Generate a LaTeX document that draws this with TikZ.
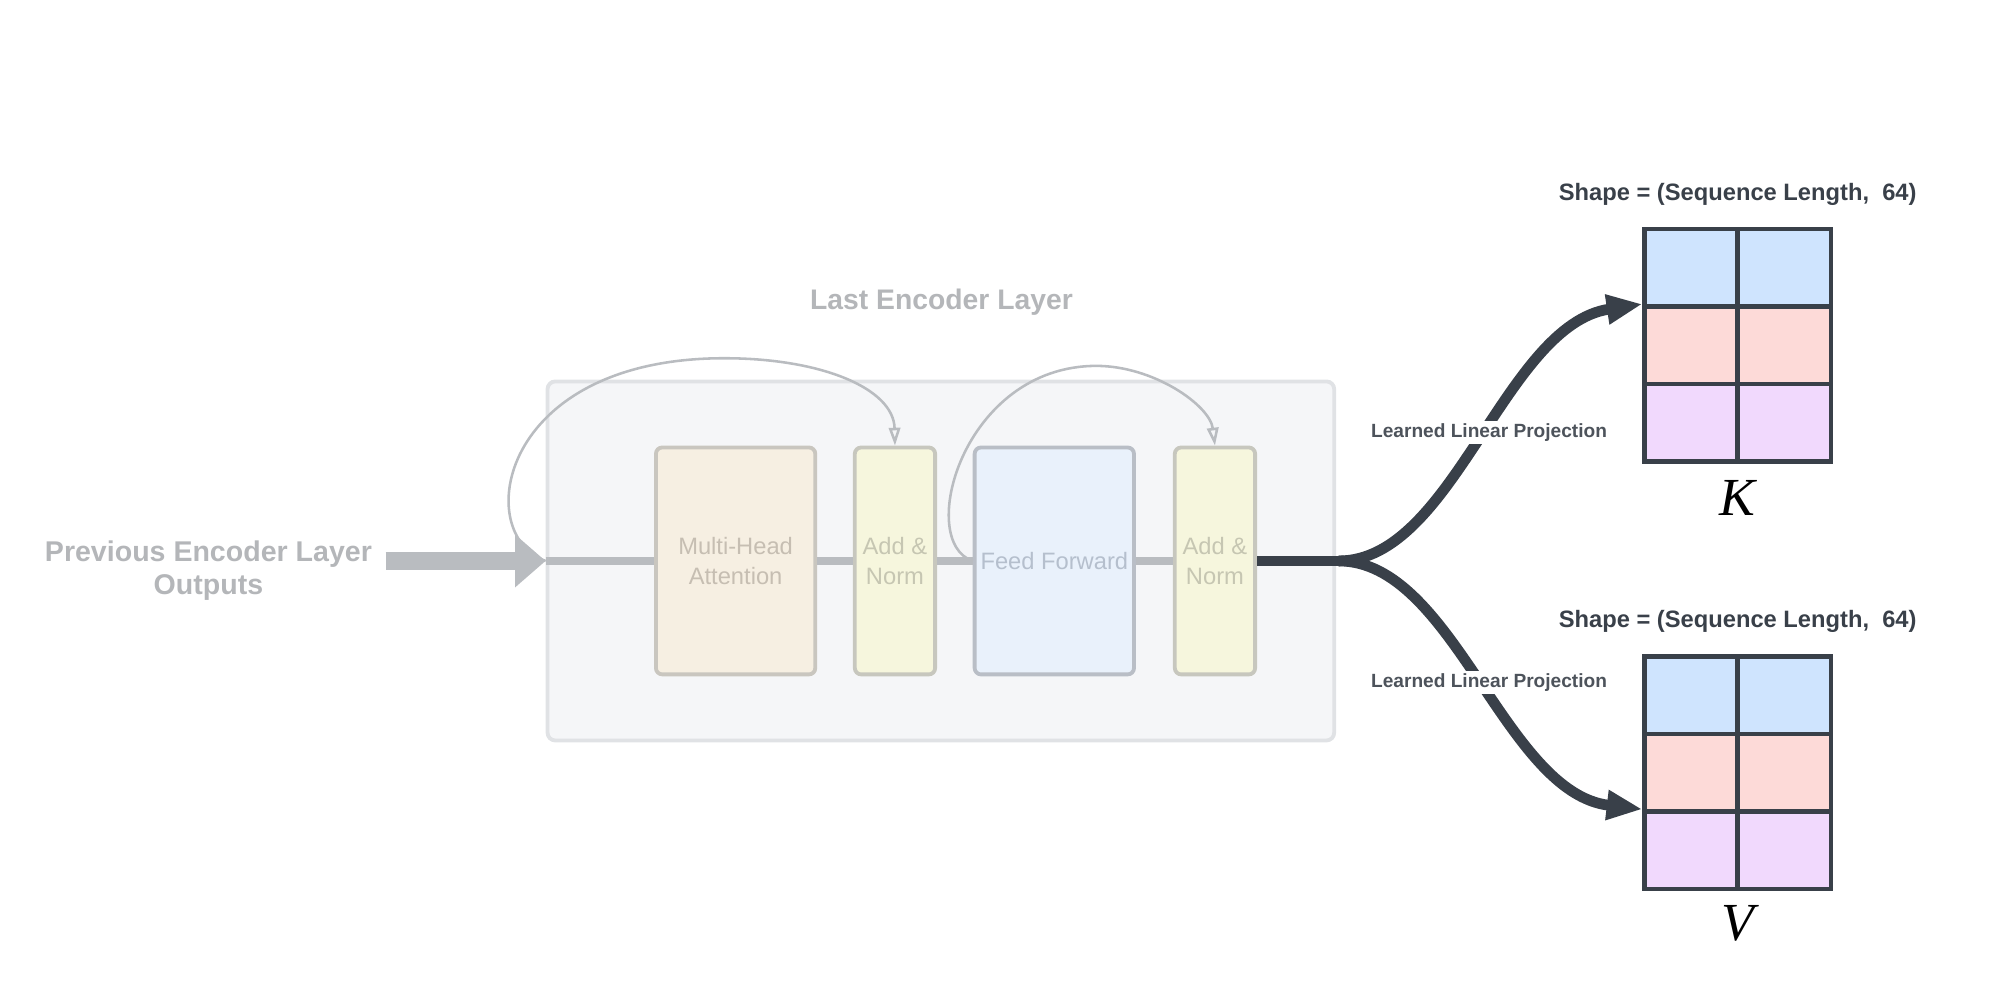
\documentclass[tikz,border=0pt]{standalone}
\usepackage{fontspec}
\setmainfont{Liberation Sans}
\newfontfamily\kvfont{Liberation Serif}
\usetikzlibrary{arrows.meta, positioning}

\definecolor{ink}{HTML}{394049}
\definecolor{faded}{HTML}{B4B6B9}
\definecolor{layerfill}{HTML}{F5F6F8}
\definecolor{layerdraw}{HTML}{E0E2E5}
\definecolor{attnfill}{HTML}{F6EFE2}
\definecolor{attndraw}{HTML}{C9C6BF}
\definecolor{attntext}{HTML}{C6BEB2}
\definecolor{normfill}{HTML}{F6F6DD}
\definecolor{normdraw}{HTML}{C7C7BE}
\definecolor{normtext}{HTML}{C6C6B2}
\definecolor{fffill}{HTML}{E9F1FB}
\definecolor{ffdraw}{HTML}{B9BEC6}
\definecolor{fftext}{HTML}{B5BFCD}
\definecolor{flow}{HTML}{B9BCC0}
\definecolor{cellblue}{HTML}{CFE4FE}
\definecolor{cellred}{HTML}{FDDAD8}
\definecolor{cellpurple}{HTML}{F1D9FD}

\begin{document}
\begin{tikzpicture}[x=0.5pt,y=-0.5pt,node distance=14pt,
  block/.style={draw, line width=1.5pt, rounded corners=2.5pt, minimum height=89pt,
    inner sep=0pt, align=center, font=\fontsize{9.3}{11.5}\selectfont},
  cell/.style={draw=ink, line width=1.75pt, minimum width=36.5pt, minimum height=30.5pt, inner sep=0pt},
  skip/.style={draw=flow, line width=1pt, -{Triangle[open, length=7pt, width=4.5pt]}},
  proj/.style={draw=ink, line width=4.2pt, -{Triangle[length=14pt, width=11pt]}},
  projlabel/.style={fill=white, inner sep=1pt, text=ink!90, font=\bfseries\fontsize{7.5}{9}\selectfont},
  shapelabel/.style={text=ink, font=\bfseries\fontsize{9.3}{11}\selectfont}]
  \useasboundingbox (0,0) rectangle (1568,780);

  % encoder layer
  \node[draw=layerdraw, fill=layerfill, line width=1.5pt, rounded corners=3pt,
    minimum width=308.5pt, minimum height=140.8pt] (layer) at (738,440) {};
  \node[text=faded, font=\bfseries\fontsize{11.1}{13}\selectfont, anchor=base] (title) at (738.5,242.5) {Last Encoder Layer};

  \node[block, fill=attnfill, draw=attndraw, text=attntext, minimum width=62.5pt] (mha) at (577,440) {Multi-Head\\Attention};
  \node[block, fill=normfill, draw=normdraw, text=normtext, minimum width=31.5pt] (an1) [right=of mha] {Add \&\\Norm};
  \node[block, fill=fffill, draw=ffdraw, text=fftext, minimum width=62.5pt] (ff) [right=of an1] {Feed Forward};
  \node[block, fill=normfill, draw=normdraw, text=normtext, minimum width=31.5pt] (an2) [right=14.5pt of ff] {Add \&\\Norm};

  \node[text=faded, align=center, font=\bfseries\fontsize{11.2}{13}\selectfont] (prev) at (163.5,447.5) {Previous Encoder Layer\\Outputs};
  \coordinate (in) at (302.5,440);
  \coordinate (fork) at (1050,440);

  % K and V grids
  \foreach \r/\c in {1/cellblue, 2/cellred, 3/cellpurple} {
    \node[cell, fill=\c] (k\r1) at (1326.5,{210+60.75*(\r-1)}) {};
    \node[cell, fill=\c] (k\r2) at (1399.5,{210+60.75*(\r-1)}) {};
    \node[cell, fill=\c] (v\r1) at (1326.5,{545.5+60.75*(\r-1)}) {};
    \node[cell, fill=\c] (v\r2) at (1399.5,{545.5+60.75*(\r-1)}) {};
  }
  \node[shapelabel, anchor=base] (kshape) at (1363,157) {Shape = (Sequence Length,\ \ 64)};
  \node[shapelabel, anchor=base] (vshape) at (1363,492.5) {Shape = (Sequence Length,\ \ 64)};
  \node[anchor=base, font=\kvfont\itshape\fontsize{21}{24}\selectfont] (klabel) at (1363,404) {K};
  \node[anchor=base, font=\kvfont\itshape\fontsize{21}{24}\selectfont] (vlabel) at (1363,738) {V};

  % flow through the layer
  \draw[flow, line width=7.2pt, -{Triangle[length=12pt, width=20pt]}] (in) -- (layer.west);
  \draw[flow, line width=3.2pt] (layer.west) -- (mha.west) (mha.east) -- (an1.west)
    (an1.east) -- (ff.west) (ff.east) -- (an2.west);
  \draw[skip] (layer.west) .. controls (370,420) and (390,281) .. (568,281)
    .. controls (645,281) and (701,305) .. (an1.north);
  \draw[skip] (ff.west) .. controls (718,425) and (755,287) .. (860,287)
    .. controls (905,287) and (949,318) .. (an2.north);

  % projections
  \draw[ink, line width=4.2pt] (an2.east) -- (fork);
  \draw[proj] (fork) .. controls (1140,440) and (1180,255) .. (k21.north west);
  \draw[proj] (fork) .. controls (1140,440) and (1180,622) .. (v31.north west);
  \node[projlabel, anchor=base] (kproj) at (1168,343) {Learned Linear Projection};
  \node[projlabel, anchor=base] (vproj) at (1168,539.5) {Learned Linear Projection};
\end{tikzpicture}
\end{document}
